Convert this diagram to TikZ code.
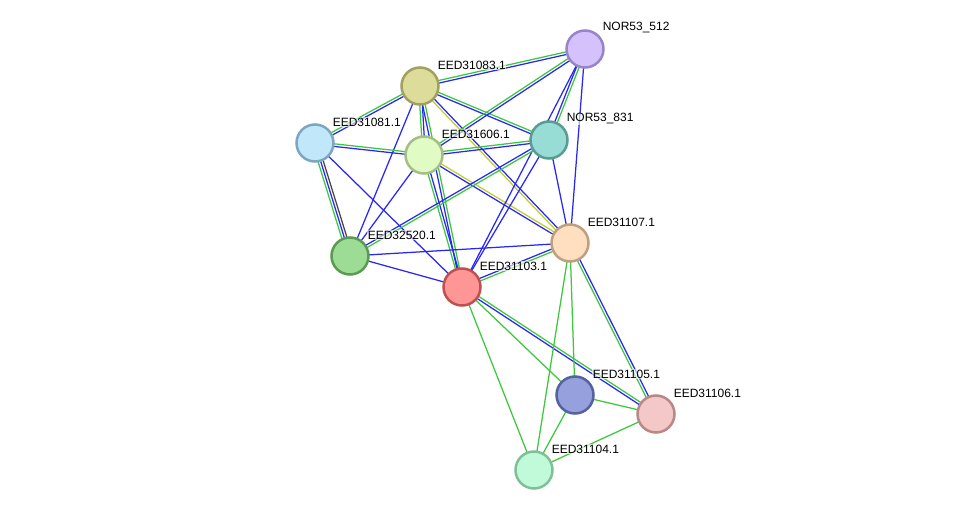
\documentclass[tikz,border=0pt]{standalone}
\usepackage{fontspec}
\setmainfont{Liberation Sans}
\usepackage{tikz}
\usetikzlibrary{calc, backgrounds}
% evidence channel colours
\definecolor{sgreen}{RGB}{60,200,60}
\definecolor{sblue}{RGB}{40,40,245}
\definecolor{syellow}{RGB}{195,205,40}
\definecolor{sblack}{RGB}{70,70,70}
\tikzset{
  prot/.style={circle, draw, line width=2.5pt, minimum size=37pt, inner sep=0pt},
  lab/.style={anchor=west, inner sep=0.6pt, fill=white, fill opacity=0.6,
    text opacity=1, font=\fontsize{12}{14}\selectfont},
  edge/.style={line width=1.25pt}
}
% one evidence line per colour, offset sideways
\newcommand{\link}[3]{%
  \foreach \c/\o in {#3}
    \draw[edge, \c] ($(#1.center)!\o pt!90:(#2.center)$) -- ($(#2.center)!\o pt!-90:(#1.center)$);%
}

\begin{document}
\begin{tikzpicture}[x=1pt, y=-1pt]
  \useasboundingbox (0,0) rectangle (975,516);
  \node[prot, fill={rgb,255:red,213;green,194;blue,252}, draw={rgb,255:red,152;green,133;blue,201}] (n512) at (585,49) {};
  \node[prot, fill={rgb,255:red,222;green,220;blue,155}, draw={rgb,255:red,160;green,160;blue,96}] (n31083) at (420,86) {};
  \node[prot, fill={rgb,255:red,152;green,221;blue,213}, draw={rgb,255:red,88;green,156;blue,148}] (n831) at (549,140) {};
  \node[prot, fill={rgb,255:red,192;green,232;blue,250}, draw={rgb,255:red,126;green,166;blue,192}] (n31081) at (315,143) {};
  \node[prot, fill={rgb,255:red,224;green,252;blue,196}, draw={rgb,255:red,166;green,190;blue,134}] (n31606) at (424,155) {};
  \node[prot, fill={rgb,255:red,255;green,223;blue,192}, draw={rgb,255:red,190;green,160;blue,128}] (n31107) at (570,243) {};
  \node[prot, fill={rgb,255:red,156;green,220;blue,148}, draw={rgb,255:red,92;green,154;blue,84}] (n32520) at (350,256) {};
  \node[prot, fill={rgb,255:red,255;green,150;blue,150}, draw={rgb,255:red,190;green,80;blue,80}] (n31103) at (462,287) {};
  \node[prot, fill={rgb,255:red,150;green,160;blue,220}, draw={rgb,255:red,84;green,98;blue,160}] (n31105) at (575,395) {};
  \node[prot, fill={rgb,255:red,245;green,200;blue,200}, draw={rgb,255:red,182;green,136;blue,136}] (n31106) at (656,414) {};
  \node[prot, fill={rgb,255:red,192;green,250;blue,216}, draw={rgb,255:red,128;green,192;blue,152}] (n31104) at (534,470) {};

  \node[lab] (t512) at ([shift={(17,-21)}]n512.center) {NOR53\_512};
  \node[lab] (t31083) at ([shift={(17,-21)}]n31083.center) {EED31083.1};
  \node[lab] (t831) at ([shift={(17,-21)}]n831.center) {NOR53\_831};
  \node[lab] (t31081) at ([shift={(17,-21)}]n31081.center) {EED31081.1};
  \node[lab] (t31606) at ([shift={(17,-21)}]n31606.center) {EED31606.1};
  \node[lab] (t31107) at ([shift={(17,-21)}]n31107.center) {EED31107.1};
  \node[lab] (t32520) at ([shift={(17,-21)}]n32520.center) {EED32520.1};
  \node[lab] (t31103) at ([shift={(17,-21)}]n31103.center) {EED31103.1};
  \node[lab] (t31105) at ([shift={(17,-21)}]n31105.center) {EED31105.1};
  \node[lab] (t31106) at ([shift={(17,-21)}]n31106.center) {EED31106.1};
  \node[lab] (t31104) at ([shift={(17,-21)}]n31104.center) {EED31104.1};

  \begin{pgfonlayer}{background}
    \link{n31083}{n512}{sgreen/1.3, sblue/-1.3}
    \link{n31083}{n31081}{sgreen/-1.3, sblue/1.3}
    \link{n31083}{n31606}{sgreen/-1.3, sblue/1.3}
    \link{n31083}{n831}{sgreen/1.3, sblue/-1.3}
    \link{n31083}{n31107}{syellow/-1.3, sblue/1.3}
    \link{n31083}{n32520}{sblue/0}
    \link{n31083}{n31103}{sgreen/1.3, sblue/-1.3}
    \link{n31081}{n31606}{sgreen/1.3, sblue/-1.3}
    \link{n31081}{n32520}{sgreen/-2.6, sblue/0, sblack/2.6}
    \link{n31081}{n31103}{sblue/0}
    \link{n31606}{n831}{sgreen/1.3, sblue/-1.3}
    \link{n31606}{n512}{sgreen/1.3, sblue/-1.3}
    \link{n31606}{n32520}{sblue/0}
    \link{n31606}{n31103}{sgreen/-1.3, sblue/1.3}
    \link{n31606}{n31107}{syellow/1.3, sblue/-1.3}
    \link{n831}{n512}{sgreen/-1.3, sblue/1.3}
    \link{n512}{n31103}{sblue/0}
    \link{n512}{n31107}{sblue/0}
    \link{n831}{n32520}{sgreen/1.3, sblue/-1.3}
    \link{n831}{n31103}{sblue/0}
    \link{n831}{n31107}{sblue/0}
    \link{n32520}{n31107}{sblue/0}
    \link{n32520}{n31103}{sblue/0}
    \link{n31103}{n31107}{sgreen/-1.3, sblue/1.3}
    \link{n31103}{n31105}{sgreen/0}
    \link{n31103}{n31106}{sgreen/1.3, sblue/-1.3}
    \link{n31103}{n31104}{sgreen/0}
    \link{n31107}{n31105}{sgreen/0}
    \link{n31107}{n31104}{sgreen/0}
    \link{n31107}{n31106}{sgreen/-1.3, sblue/1.3}
    \link{n31105}{n31106}{sgreen/0}
    \link{n31105}{n31104}{sgreen/0}
    \link{n31106}{n31104}{sgreen/0}
  \end{pgfonlayer}
\end{tikzpicture}
\end{document}
